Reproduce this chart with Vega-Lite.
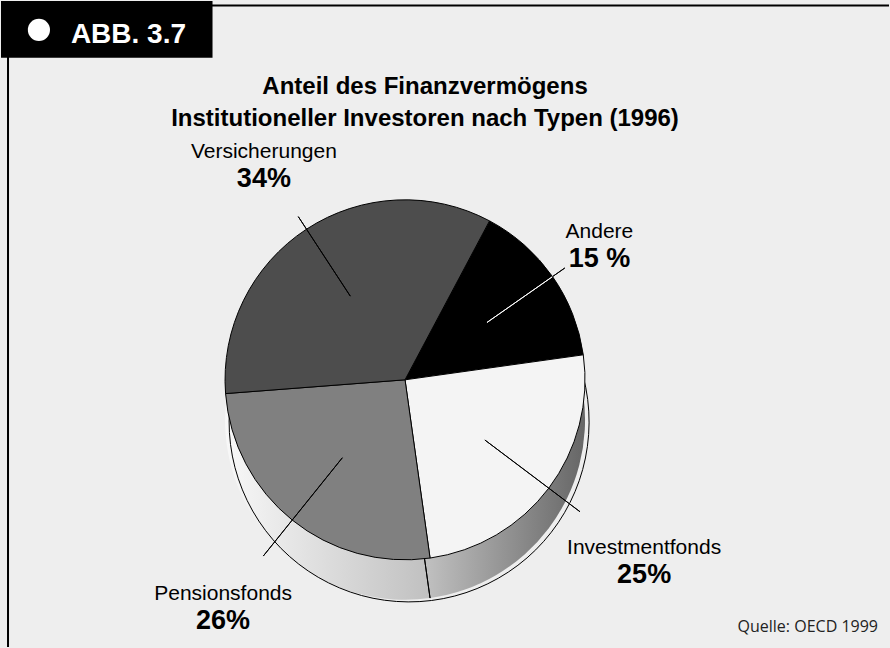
{
  "$schema": "https://vega.github.io/schema/vega-lite/v6.json",
  "width": 890,
  "height": 648,
  "autosize": {"type": "fit", "contains": "padding"},
  "padding": 0,
  "background": "#eeeeee",
  "config": {"view": {"stroke": null}, "axis": {"disable": true}},
  "layer": [
    {
      "data": {"values": [{}]},
      "mark": {"type": "rule", "stroke": "#000000", "strokeWidth": 2},
      "encoding": {"y": {"datum": 99.31, "type": "quantitative", "scale": {"domain": [0, 100]}}}
    },
    {
      "data": {"values": [{}]},
      "mark": {"type": "rule", "stroke": "#000000", "strokeWidth": 2},
      "encoding": {"x": {"datum": 0.79, "type": "quantitative", "scale": {"domain": [0, 100]}}}
    },
    {
      "data": {"values": [{}]},
      "mark": {"type": "rect", "fill": "#000000"},
      "encoding": {
        "x": {"datum": 0, "type": "quantitative"},
        "x2": {"datum": 23.82},
        "y": {"datum": 100, "type": "quantitative"},
        "y2": {"datum": 91.2}
      }
    },
    {
      "data": {"values": [{}]},
      "mark": {"type": "point", "shape": "circle", "filled": true, "fill": "#ffffff", "opacity": 1, "size": 490},
      "encoding": {
        "x": {"datum": 4.27, "type": "quantitative"},
        "y": {"datum": 95.52, "type": "quantitative"}
      }
    },
    {
      "data": {"values": [{}]},
      "mark": {"type": "text", "text": "ABB. 3.7", "align": "left", "baseline": "alphabetic", "font": "Liberation Sans, Arial, sans-serif", "fontWeight": "bold", "fontSize": 28, "fill": "#ffffff"},
      "encoding": {
        "x": {"datum": 7.87, "type": "quantitative"},
        "y": {"datum": 93.52, "type": "quantitative"}
      }
    },
    {
      "data": {"values": [{}]},
      "mark": {"type": "text", "text": ["Anteil des Finanzvermögens", "Institutioneller Investoren nach Typen (1996)"], "align": "center", "baseline": "alphabetic", "lineHeight": 32, "font": "Liberation Sans, Arial, sans-serif", "fontWeight": "bold", "fontSize": 24, "fill": "#000000"},
      "encoding": {
        "x": {"datum": 47.75, "type": "quantitative"},
        "y": {"datum": 85.65, "type": "quantitative"}
      }
    },
    {
      "data": {"values": [{}]},
      "mark": {"type": "text", "text": "Quelle: OECD  1999", "align": "right", "baseline": "alphabetic", "font": "Open Sans, sans-serif", "fontSize": 16, "fill": "#222222"},
      "encoding": {
        "x": {"datum": 98.76, "type": "quantitative"},
        "y": {"datum": 2.31, "type": "quantitative"}
      }
    },
    {
      "data": {
        "values": [
          {"type": "Andere", "share": 15, "pct": "15 %", "rank": 1},
          {"type": "Investmentfonds", "share": 25, "pct": "25%", "rank": 2},
          {"type": "Pensionsfonds", "share": 26, "pct": "26%", "rank": 3},
          {"type": "Versicherungen", "share": 34, "pct": "34%", "rank": 4}
        ]
      },
      "transform": [
        {"window": [{"op": "sum", "field": "share", "as": "cum"}], "sort": [{"field": "rank"}], "frame": [null, 0]},
        {"calculate": "datum.cum - datum.share / 2", "as": "mid"},
        {"calculate": "0.489 + datum.mid * 2 * PI / 100", "as": "ang"},
        {"calculate": "max(0, -cos(datum.ang)) * 40", "as": "side"},
        {"calculate": "198 + datum.side + length(datum.type) * 5.3 * abs(sin(datum.ang)) + 23 * abs(cos(datum.ang))", "as": "lr"},
        {"calculate": "195 + datum.side", "as": "le"}
      ],
      "encoding": {
        "x": {"datum": 45.5, "type": "quantitative"},
        "y": {"datum": 41.36, "type": "quantitative"}
      },
      "layer": [
        {
          "mark": {"type": "arc", "outerRadius": 180, "yOffset": 40, "strokeWidth": 0},
          "encoding": {
            "theta": {"field": "share", "type": "quantitative", "stack": true, "scale": {"domain": [0, 100], "range": [0.489, 6.772]}},
            "order": {"field": "rank", "type": "quantitative"},
            "detail": {"field": "type"},
            "fill": {
              "condition": {"test": "datum.type === 'Investmentfonds' || datum.type === 'Andere'", "value": {"gradient": "linear", "x1": 0, "y1": 0, "x2": 1, "y2": 0, "stops": [{"offset": 0, "color": "#cccccc"}, {"offset": 1, "color": "#666666"}]}},
              "value": {"gradient": "linear", "x1": 0, "y1": 0, "x2": 1, "y2": 0, "stops": [{"offset": 0, "color": "#f8f8f8"}, {"offset": 1, "color": "#c0c0c0"}]}
            }
          }
        },
        {
          "transform": [{"aggregate": [{"op": "sum", "field": "share", "as": "total"}]}],
          "mark": {"type": "arc", "outerRadius": 180, "yOffset": 40, "fill": null, "stroke": "#000000", "strokeWidth": 1},
          "encoding": {
            "theta": {"field": "total", "type": "quantitative", "stack": true, "scale": {"domain": [0, 100], "range": [0.489, 6.772]}}
          }
        },
        {
          "transform": [{"filter": "datum.type === 'Investmentfonds'"}],
          "mark": {"type": "arc", "yOffset": 40, "fill": null, "stroke": "#000000", "strokeWidth": 1},
          "encoding": {
            "theta": {"field": "cum", "type": "quantitative", "stack": null, "scale": {"domain": [0, 100], "range": [0.489, 6.772]}},
            "theta2": {"field": "cum"},
            "radius": {"value": 180},
            "radius2": {"value": 120}
          }
        },
        {
          "mark": {"type": "arc", "outerRadius": 180, "stroke": "#000000", "strokeWidth": 1},
          "encoding": {
            "theta": {"field": "share", "type": "quantitative", "stack": true, "scale": {"domain": [0, 100], "range": [0.489, 6.772]}},
            "order": {"field": "rank", "type": "quantitative"},
            "color": {"field": "type", "type": "nominal", "scale": {"domain": ["Andere", "Investmentfonds", "Pensionsfonds", "Versicherungen"], "range": ["#000000", "#f4f4f4", "#808080", "#4d4d4d"]}, "legend": null}
          }
        },
        {
          "mark": {"type": "arc", "fill": null, "strokeWidth": 1},
          "encoding": {
            "theta": {"field": "mid", "type": "quantitative", "stack": null, "scale": {"domain": [0, 100], "range": [0.489, 6.772]}},
            "theta2": {"field": "mid"},
            "radius": {"value": 180},
            "radius2": {"value": 100},
            "stroke": {"condition": {"test": "datum.type === 'Andere'", "value": "#ffffff"}, "value": "#000000"}
          }
        },
        {
          "mark": {"type": "arc", "fill": null, "stroke": "#000000", "strokeWidth": 1},
          "encoding": {
            "theta": {"field": "mid", "type": "quantitative", "stack": null, "scale": {"domain": [0, 100], "range": [0.489, 6.772]}},
            "theta2": {"field": "mid"},
            "radius": {"field": "le", "type": "quantitative", "scale": null},
            "radius2": {"value": 180}
          }
        },
        {
          "mark": {"type": "text", "align": "center", "baseline": "alphabetic", "dy": -6, "font": "Liberation Sans, Arial, sans-serif", "fontSize": 21, "fill": "#000000"},
          "encoding": {
            "theta": {"field": "mid", "type": "quantitative", "stack": null, "scale": {"domain": [0, 100], "range": [0.489, 6.772]}},
            "radius": {"field": "lr", "type": "quantitative", "scale": null},
            "text": {"field": "type"}
          }
        },
        {
          "mark": {"type": "text", "align": "center", "baseline": "alphabetic", "dy": 23, "font": "Liberation Sans, Arial, sans-serif", "fontWeight": "bold", "fontSize": 27, "fill": "#000000"},
          "encoding": {
            "theta": {"field": "mid", "type": "quantitative", "stack": null, "scale": {"domain": [0, 100], "range": [0.489, 6.772]}},
            "radius": {"field": "lr", "type": "quantitative", "scale": null},
            "text": {"field": "pct"}
          }
        }
      ]
    }
  ]
}
